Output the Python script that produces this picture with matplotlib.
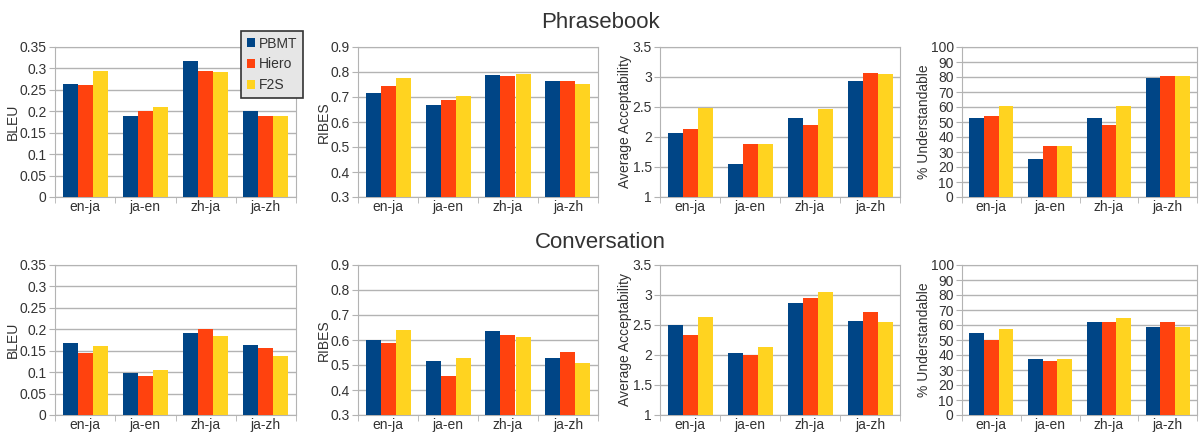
import matplotlib
matplotlib.use("Agg")
import matplotlib.pyplot as plt
from matplotlib.patches import Patch
import numpy as np

plt.rcParams["font.family"] = ["Liberation Sans", "DejaVu Sans"]

pairs = ["en-ja", "ja-en", "zh-ja", "ja-zh"]
systems = ["PBMT", "Hiero", "F2S"]
colors = ["#004586", "#ff420e", "#ffd320"]

# Phrasebook (rows: PBMT, Hiero, F2S; columns follow `pairs`)
pb_bleu = [[0.264, 0.188, 0.318, 0.201],
           [0.262, 0.201, 0.295, 0.190],
           [0.295, 0.211, 0.291, 0.188]]
pb_ribes = [[0.716, 0.669, 0.788, 0.764],
            [0.744, 0.688, 0.784, 0.764],
            [0.776, 0.704, 0.792, 0.752]]
pb_accept = [[2.06, 1.55, 2.31, 2.94],
             [2.13, 1.88, 2.20, 3.07],
             [2.48, 1.88, 2.46, 3.05]]
pb_under = [[52.4, 25.3, 52.4, 79.5],
            [53.7, 33.9, 47.8, 80.8],
            [61.0, 33.9, 61.0, 80.8]]

# Conversation
cv_bleu = [[0.168, 0.099, 0.192, 0.164],
           [0.145, 0.092, 0.201, 0.157],
           [0.161, 0.106, 0.185, 0.138]]
cv_ribes = [[0.602, 0.515, 0.638, 0.530],
            [0.590, 0.455, 0.622, 0.554],
            [0.642, 0.530, 0.614, 0.510]]
cv_accept = [[2.50, 2.04, 2.87, 2.57],
             [2.34, 2.00, 2.95, 2.72],
             [2.64, 2.14, 3.05, 2.55]]
cv_under = [[54.8, 37.5, 62.1, 58.8],
            [50.1, 36.1, 62.1, 62.1],
            [57.4, 37.5, 64.7, 58.8]]

metrics = [
    ("BLEU", 0, 0.35, 0.05),
    ("RIBES", 0.3, 0.9, 0.1),
    ("Average Acceptability", 1, 3.5, 0.5),
    ("% Understandable", 0, 100, 10),
]

fig = plt.figure(figsize=(12.01, 4.34), dpi=100)

lefts = [55, 358, 660, 962]
widths = [241, 240, 240, 235]
row_tops = [47, 265]
row_h = 150
W, H = 1201, 434

grid_c = "#b3b3b3"
text_c = "#333333"


def draw_panel(ax, data, metric):
    label, lo, hi, step = metric
    x = np.arange(len(pairs))
    bw = 0.25
    for i, vals in enumerate(data):
        ax.bar(x + (i - 1) * bw, np.array(vals) - lo, bw, bottom=lo,
               color=colors[i], zorder=3, linewidth=0)
    ax.set_xlim(-0.5, len(pairs) - 0.5)
    ax.set_ylim(lo, hi)
    ticks = np.arange(lo, hi + step / 2, step)
    ax.set_yticks(ticks)
    ax.set_yticklabels(["%g" % round(t, 3) for t in ticks])
    ax.set_xticks(x)
    ax.set_xticklabels(pairs)
    ax.set_xticks(np.arange(-0.5, len(pairs)), minor=True)
    ax.tick_params(axis="x", which="major", length=0, labelsize=10,
                   colors=text_c, pad=2)
    ax.tick_params(axis="x", which="minor", length=4, color=grid_c,
                   direction="out")
    ax.tick_params(axis="y", length=4, color=grid_c, labelsize=10,
                   labelcolor=text_c, pad=2)
    ax.yaxis.grid(True, color=grid_c, linewidth=1, zorder=0)
    for s in ax.spines.values():
        s.set_color(grid_c)
    ax.set_ylabel(label, fontsize=10, color=text_c, labelpad=0)


datasets = [
    [pb_bleu, pb_ribes, pb_accept, pb_under],
    [cv_bleu, cv_ribes, cv_accept, cv_under],
]

for r, row in enumerate(datasets):
    for c, data in enumerate(row):
        rect = [lefts[c] / W, 1 - (row_tops[r] + row_h) / H,
                widths[c] / W, row_h / H]
        ax = fig.add_axes(rect)
        draw_panel(ax, data, metrics[c])

fig.text(0.5, 1 - 22 / H, "Phrasebook", ha="center", va="center",
         fontsize=16, color=text_c)
fig.text(0.5, 1 - 243 / H, "Conversation", ha="center", va="center",
         fontsize=16, color=text_c)

handles = [Patch(facecolor=colors[i], label=systems[i]) for i in range(3)]
leg = fig.legend(handles=handles, loc="upper left",
                 bbox_to_anchor=(241 / W, 1 - 31 / H), frameon=True,
                 fancybox=False, fontsize=10, handlelength=0.6,
                 handleheight=0.6, handletextpad=0.3, borderpad=0.4,
                 labelspacing=0.5, borderaxespad=0)
leg.get_frame().set_facecolor("#e6e6e6")
leg.get_frame().set_edgecolor("#333333")
leg.get_frame().set_linewidth(1.2)
leg.get_frame().set_alpha(1)
for t in leg.get_texts():
    t.set_color(text_c)

fig.savefig("out.png", dpi=100)
